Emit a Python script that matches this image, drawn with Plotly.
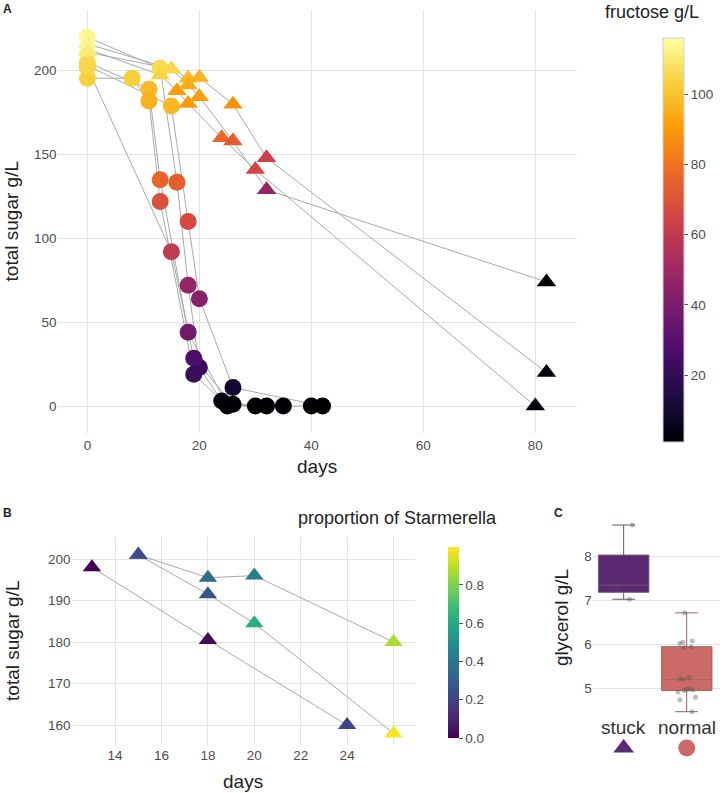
import plotly.graph_objects as go

W, H = 725, 793

# ---------------- Panel A data ----------------
# normal fermentations (circles)
normal_days = [
    [0, 13, 16, 18, 20, 24, 30],
    [0, 11, 13, 18, 25, 32],
    [0, 15, 19, 26, 35],
    [0, 8, 11, 13, 19, 25, 40],
    [0, 15, 18, 20, 26, 42],
]
normal_sugar = [
    [220, 201.5, 133.5, 72, 23, 3, 0],
    [205, 189, 135, 44, 0.5, 0],
    [202, 92, 28.5, 1, 0],
    [195.5, 195.5, 182, 122, 19, 0, 0],
    [203, 179, 110, 64, 11, 0],
]
normal_fructose = [
    [114, 106, 74, 47, 23, 3, 1],
    [106, 98, 76, 38, 2, 1],
    [105, 60, 27, 2, 1],
    [103, 103, 96, 69, 22, 1.5, 1],
    [105, 97, 67, 44, 10, 1],
]
# stuck fermentations (triangles)
stuck_days = [
    [0, 13, 16, 18, 24, 30, 80],
    [0, 15, 18, 20, 26, 32, 82],
    [0, 15, 18, 20, 26, 32, 82],
]
stuck_sugar = [
    [213, 197.5, 188, 180.5, 160, 141, 0],
    [216, 201, 195.5, 196, 180, 148, 20],
    [211, 201, 191.5, 184.5, 158, 129, 74],
]
stuck_fructose = [
    [112, 104, 91, 90, 77, 66, 2],
    [113, 106, 98, 96, 88, 64, 2],
    [110, 105, 94, 91, 73, 47, 1],
]
fructose_range = [1, 116]
fructose_ticks = [20, 40, 60, 80, 100]
A_xticks = [0, 20, 40, 60, 80]
A_yticks = [0, 50, 100, 150, 200]

# ---------------- Panel B data ----------------
B_days = [
    [13, 18, 24],
    [15, 18, 20, 26],
    [15, 18, 20, 26],
]
B_sugar = [
    [198, 180.5, 160],
    [201, 195.5, 196, 180],
    [201, 191.5, 184.5, 158],
]
B_starmerella = [
    [0.0, 0.03, 0.2],
    [0.25, 0.36, 0.43, 0.87],
    [0.24, 0.27, 0.62, 0.99],
]
B_xticks = [14, 16, 18, 20, 22, 24, 26]
B_xticklabels = ["14", "16", "18", "20", "22", "24", ""]
B_yticks = [160, 170, 180, 190, 200]
prop_ticks = [0.0, 0.2, 0.4, 0.6, 0.8]

# ---------------- Panel C data ----------------
C_groups = ["stuck", "normal"]
glycerol_stuck = [7.03, 7.35, 8.72]
glycerol_normal = [4.47, 4.74, 4.8, 4.92, 4.95, 4.97, 4.98, 5.0, 5.2, 5.22,
                   5.25, 5.93, 5.95, 6.02, 6.05, 6.08, 6.72]
C_colors = ["#5c2a72", "#cc6a67"]
C_yticks = [5, 6, 7, 8]


def dx(a, b):
    return [a / W, b / W]


def dy(top, bottom):
    return [1 - bottom / H, 1 - top / H]


FONT = "Liberation Sans, Arial, sans-serif"
TICKC = "#4d4d4d"
GRID = "#e3e3e3"
LINEC = "#a9a9a9"

fig = go.Figure()

# ---- Panel A lines ----
for d, s in zip(normal_days + stuck_days, normal_sugar + stuck_sugar):
    fig.add_trace(go.Scatter(x=d, y=s, mode="lines",
                             line=dict(color=LINEC, width=1),
                             showlegend=False, hoverinfo="skip",
                             xaxis="x", yaxis="y"))
# ---- Panel A markers ----
fig.add_trace(go.Scatter(
    x=sum(normal_days, []), y=sum(normal_sugar, []), mode="markers",
    marker=dict(symbol="circle", size=17, color=sum(normal_fructose, []),
                coloraxis="coloraxis", line=dict(width=0)),
    showlegend=False, xaxis="x", yaxis="y"))
fig.add_trace(go.Scatter(
    x=sum(stuck_days, []), y=sum(stuck_sugar, []), mode="markers",
    marker=dict(symbol="triangle-up", size=17, color=sum(stuck_fructose, []),
                coloraxis="coloraxis", line=dict(width=0)),
    showlegend=False, xaxis="x", yaxis="y"))

# ---- Panel B ----
for d, s in zip(B_days, B_sugar):
    fig.add_trace(go.Scatter(x=d, y=s, mode="lines",
                             line=dict(color=LINEC, width=1),
                             showlegend=False, hoverinfo="skip",
                             xaxis="x2", yaxis="y2"))
fig.add_trace(go.Scatter(
    x=sum(B_days, []), y=sum(B_sugar, []), mode="markers",
    marker=dict(symbol="triangle-up", size=16, color=sum(B_starmerella, []),
                coloraxis="coloraxis2", line=dict(width=0)),
    showlegend=False, xaxis="x2", yaxis="y2"))

# ---- Panel C ----
line_cols = ["#6a5570", "#9c6464"]
for i, (vals, col, lc) in enumerate(zip([glycerol_stuck, glycerol_normal], C_colors, line_cols)):
    fig.add_trace(go.Box(
        y=vals, x=[i] * len(vals), width=0.8, fillcolor=col,
        line=dict(color=lc, width=1), whiskerwidth=0.45,
        boxpoints="all", jitter=0.45, pointpos=0,
        marker=dict(color="rgba(90,90,90,0.4)", size=5),
        quartilemethod="inclusive", showlegend=False,
        xaxis="x3", yaxis="y3"))
# legend-like keys under panel C
fig.add_trace(go.Scatter(x=[0], y=[0.5], mode="markers",
                         marker=dict(symbol="triangle-up", size=18, color=C_colors[0]),
                         showlegend=False, xaxis="x4", yaxis="y4"))
fig.add_trace(go.Scatter(x=[1], y=[0.5], mode="markers",
                         marker=dict(symbol="circle", size=17, color=C_colors[1]),
                         showlegend=False, xaxis="x4", yaxis="y4"))

tickfont = dict(family=FONT, size=13.5, color=TICKC)
common = dict(showline=False, zeroline=False, gridcolor=GRID, gridwidth=1,
              tickfont=tickfont, ticks="")

fig.update_layout(
    width=W, height=H, margin=dict(l=0, r=0, t=0, b=0),
    paper_bgcolor="white", plot_bgcolor="white",
    font=dict(family=FONT, color="#222"),
    xaxis=dict(domain=dx(58, 581), range=[-5.32, 87.45], tickvals=A_xticks,
               anchor="y", ticklabelstandoff=2, **common),
    yaxis=dict(domain=dy(10, 433), range=[-16.1, 236.2], tickvals=A_yticks,
               anchor="x", **common),
    xaxis2=dict(domain=dx(72, 418), range=[12.12, 26.93], tickvals=B_xticks,
                ticktext=B_xticklabels, anchor="y2", **common),
    yaxis2=dict(domain=dy(537, 745), range=[155.2, 205.3], tickvals=B_yticks,
                anchor="x2", **common),
    xaxis3=dict(domain=dx(597, 725), range=[-0.488, 1.528], tickvals=[0, 1],
                showticklabels=False, anchor="y3", showgrid=False,
                zeroline=False),
    yaxis3=dict(domain=dy(515.8, 720.9), range=[4.26, 8.93], tickvals=C_yticks,
                anchor="x3", **common),
    xaxis4=dict(domain=dx(597, 725), range=[-0.488, 1.528], visible=False,
                anchor="y4"),
    yaxis4=dict(domain=dy(736, 760), range=[0, 1], visible=False, anchor="x4"),
    coloraxis=dict(
        colorscale="Inferno", cmin=fructose_range[0], cmax=fructose_range[1],
        colorbar=dict(x=658 / W, xanchor="left", thickness=21,
                      len=424 / H, lenmode="fraction", y=1 - 240 / H,
                      yanchor="middle", outlinewidth=1, outlinecolor="#d0d0d0",
                      tickvals=fructose_ticks, ticks="outside", ticklen=4,
                      tickcolor="#555", tickfont=tickfont)),
    coloraxis2=dict(
        colorscale="Viridis", cmin=0, cmax=0.998,
        colorbar=dict(x=441 / W, xanchor="left", thickness=11,
                      len=211 / H, lenmode="fraction", y=1 - 642.5 / H,
                      yanchor="middle", outlinewidth=0,
                      tickvals=prop_ticks, tickformat=".1f", ticks="outside",
                      ticklen=4, tickcolor="#555", tickfont=tickfont)),
)


def ann(text, x, y, size, angle=0, bold=False, color="#222"):
    fig.add_annotation(text=f"<b>{text}</b>" if bold else text,
                       x=x / W, y=1 - y / H, xref="paper", yref="paper",
                       showarrow=False, textangle=angle,
                       font=dict(family=FONT, size=size, color=color),
                       xanchor="center", yanchor="middle")


ann("A", 8, 9, 12, bold=True)
ann("B", 8, 513, 12, bold=True)
ann("C", 562, 513, 12, bold=True)
ann("total sugar g/L", 12, 221.5, 19, angle=-90)
ann("days", 319.5, 467, 19)
ann("total sugar g/L", 12, 641, 19, angle=-90)
ann("days", 245, 781, 19)
ann("glycerol g/L", 565, 618, 19, angle=-90)
ann("fructose g/L", 657, 12, 18)
ann("proportion of Starmerella", 400, 518, 18)

# category labels for panel C, placed on its own x scale
for i, g in enumerate(C_groups):
    fig.add_annotation(text=g, x=i, y=1 - 727 / H, xref="x3", yref="paper",
                       showarrow=False, xanchor="center", yanchor="middle",
                       font=dict(family=FONT, size=19, color="#333"))

fig.write_html("out.html",
               config={"displayModeBar": False},
               post_script="document.body.style.margin='0';"
                           "document.body.style.overflow='hidden';")
